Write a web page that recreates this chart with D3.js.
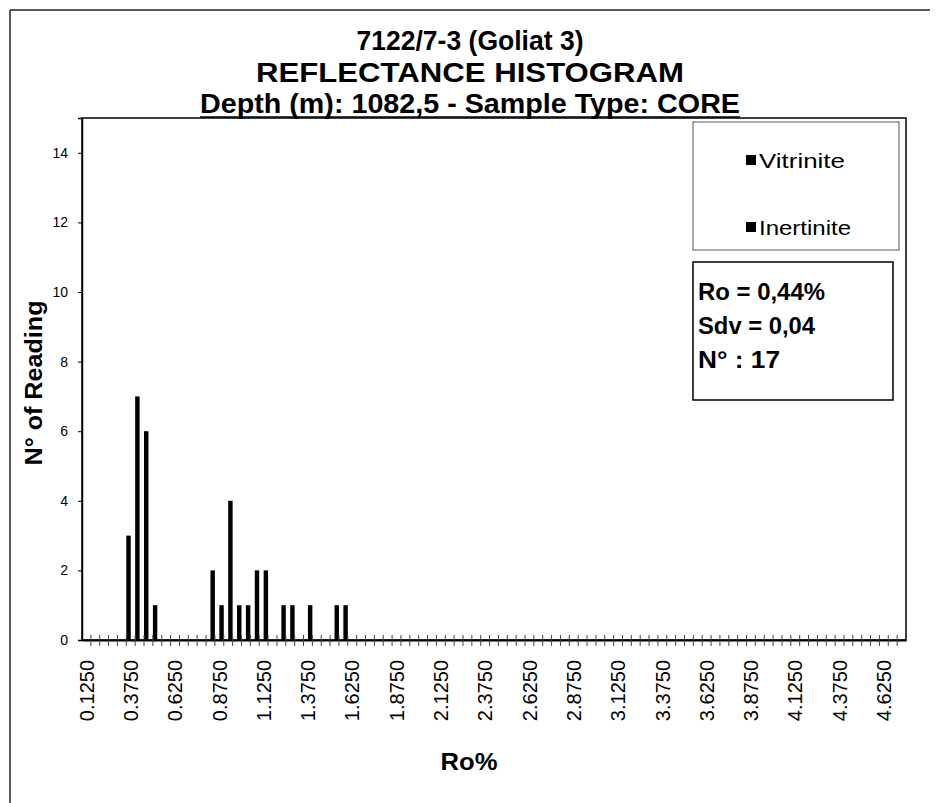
<!DOCTYPE html>
<html>
<head>
<meta charset="utf-8">
<script src="https://cdn.jsdelivr.net/npm/d3@7"></script>
<style>
  html, body { margin: 0; padding: 0; background: #fff; }
  svg { display: block; }
  text { font-family: "Liberation Sans", Arial, sans-serif; fill: #000; }
</style>
</head>
<body>
<svg id="chart" width="939" height="803"></svg>
<script>
// ---- data ----
const titleLines = ["7122/7-3 (Goliat 3)", "REFLECTANCE HISTOGRAM", "Depth (m): 1082,5 - Sample Type: CORE"];
const seriesNames = ["Vitrinite", "Inertinite"];
const categories = [
  "0.1250","0.1750","0.2250","0.2750","0.3250","0.3750","0.4250","0.4750","0.5250","0.5750",
  "0.6250","0.6750","0.7250","0.7750","0.8250","0.8750","0.9250","0.9750","1.0250","1.0750",
  "1.1250","1.1750","1.2250","1.2750","1.3250","1.3750","1.4250","1.4750","1.5250","1.5750",
  "1.6250","1.6750","1.7250","1.7750","1.8250","1.8750","1.9250","1.9750","2.0250","2.0750",
  "2.1250","2.1750","2.2250","2.2750","2.3250","2.3750","2.4250","2.4750","2.5250","2.5750",
  "2.6250","2.6750","2.7250","2.7750","2.8250","2.8750","2.9250","2.9750","3.0250","3.0750",
  "3.1250","3.1750","3.2250","3.2750","3.3250","3.3750","3.4250","3.4750","3.5250","3.5750",
  "3.6250","3.6750","3.7250","3.7750","3.8250","3.8750","3.9250","3.9750","4.0250","4.0750",
  "4.1250","4.1750","4.2250","4.2750","4.3250","4.3750","4.4250","4.4750","4.5250","4.5750",
  "4.6250","4.6750","4.7250"
];
const vitrinite = [
  0,0,0,0,0,3,7,6,1,0, 0,0,0,0,0,0,0,0,0,0, 0,0,0,0,0,0,0,0,0,0,
  0,0,0,0,0,0,0,0,0,0, 0,0,0,0,0,0,0,0,0,0, 0,0,0,0,0,0,0,0,0,0,
  0,0,0,0,0,0,0,0,0,0, 0,0,0,0,0,0,0,0,0,0, 0,0,0,0,0,0,0,0,0,0, 0,0,0
];
const inertinite = [
  0,0,0,0,0,0,0,0,0,0, 0,0,0,0,2,1,4,1,1,2, 2,0,1,1,0,1,0,0,1,1,
  0,0,0,0,0,0,0,0,0,0, 0,0,0,0,0,0,0,0,0,0, 0,0,0,0,0,0,0,0,0,0,
  0,0,0,0,0,0,0,0,0,0, 0,0,0,0,0,0,0,0,0,0, 0,0,0,0,0,0,0,0,0,0, 0,0,0
];
const xTickLabels = ["0.1250","0.3750","0.6250","0.8750","1.1250","1.3750","1.6250","1.8750","2.1250",
  "2.3750","2.6250","2.8750","3.1250","3.3750","3.6250","3.8750","4.1250","4.3750","4.6250"];
const yTicks = [0, 2, 4, 6, 8, 10, 12, 14];
const yMax = 15;
const statsLines = ["Ro = 0,44%", "Sdv = 0,04", "N° : 17"];
const xTitle = "Ro%";
const yTitle = "N° of Reading";

// ---- layout ----
const svg = d3.select("#chart");
const plot = { left: 82, right: 906, top: 118, bottom: 640 };

// outer frame (top and left edges visible in the scan)
svg.append("line").attr("x1", 10).attr("y1", 10).attr("x2", 930).attr("y2", 10)
  .attr("stroke", "#222").attr("stroke-width", 1.5);
svg.append("line").attr("x1", 10).attr("y1", 10).attr("x2", 10).attr("y2", 803)
  .attr("stroke", "#222").attr("stroke-width", 1.5);

// titles
const titleY = [50, 82, 113];
const titleW = [227, 428, 540];
titleLines.forEach((t, i) => {
  svg.append("text").attr("x", 470).attr("y", titleY[i])
    .attr("text-anchor", "middle").attr("font-size", 27).attr("font-weight", "bold")
    .attr("textLength", titleW[i]).attr("lengthAdjust", "spacingAndGlyphs")
    .text(t);
});
// underline of the third title line
svg.append("line").attr("x1", 470 - titleW[2] / 2).attr("x2", 470 + titleW[2] / 2)
  .attr("y1", 117).attr("y2", 117).attr("stroke", "#000").attr("stroke-width", 1.5);

// scales
const x = d3.scaleBand().domain(categories).range([plot.left, plot.right]).padding(0);
const xs = d3.scaleBand().domain(seriesNames).range([0, x.bandwidth()]).padding(0);
const y = d3.scaleLinear().domain([0, yMax]).range([plot.bottom, plot.top]);

// plot area border (top & right)
svg.append("rect").attr("x", plot.left).attr("y", plot.top)
  .attr("width", plot.right - plot.left).attr("height", plot.bottom - plot.top)
  .attr("fill", "none").attr("stroke", "#000").attr("stroke-width", 1.5);

// bars
const seriesData = [vitrinite, inertinite];
seriesData.forEach((vals, si) => {
  svg.append("g").selectAll("rect")
    .data(categories.map((c, i) => ({ c, v: vals[i] })).filter(d => d.v > 0))
    .join("rect")
    .attr("x", d => x(d.c) + xs(seriesNames[si]))
    .attr("width", xs.bandwidth())
    .attr("y", d => y(d.v))
    .attr("height", d => y(0) - y(d.v))
    .attr("fill", "#000");
});

// x axis
const xAxis = d3.axisBottom(x).tickValues(xTickLabels).tickSize(0).tickPadding(0);
const gx = svg.append("g").attr("transform", `translate(0,${plot.bottom})`).call(xAxis);
gx.select(".domain").attr("stroke", "#000").attr("stroke-width", 2);
gx.selectAll(".tick text")
  .attr("font-family", "Liberation Sans, Arial, sans-serif")
  .attr("font-size", 20)
  .attr("fill", "#000")
  .attr("text-anchor", "end")
  .attr("transform", "translate(0,20) rotate(-90)")
  .attr("x", 0).attr("y", 0).attr("dy", "0.36em");
// category boundary tick marks
svg.append("g").selectAll("line")
  .data(categories.slice(1))
  .join("line")
  .attr("x1", d => x(d)).attr("x2", d => x(d))
  .attr("y1", plot.bottom - 5).attr("y2", plot.bottom + 6)
  .attr("stroke", "#444").attr("stroke-width", 1);

// y axis
const yAxis = d3.axisLeft(y).tickValues(yTicks).tickSize(4).tickPadding(10).tickFormat(d3.format("d"));
const gy = svg.append("g").attr("transform", `translate(${plot.left},0)`).call(yAxis);
gy.select(".domain").attr("stroke", "#000").attr("stroke-width", 1.5);
gy.selectAll(".tick line").attr("stroke", "#000");
gy.selectAll(".tick text").attr("font-family", "Liberation Sans, Arial, sans-serif")
  .attr("font-size", 14).attr("fill", "#000");

// axis titles
svg.append("text").attr("x", 469).attr("y", 770).attr("text-anchor", "middle")
  .attr("font-size", 24).attr("font-weight", "bold")
  .attr("textLength", 57).attr("lengthAdjust", "spacingAndGlyphs").text(xTitle);
svg.append("text").attr("transform", "translate(42,383) rotate(-90)")
  .attr("text-anchor", "middle").attr("font-size", 24).attr("font-weight", "bold")
  .attr("textLength", 165).attr("lengthAdjust", "spacingAndGlyphs").text(yTitle);

// legend
svg.append("rect").attr("x", 693).attr("y", 122).attr("width", 206).attr("height", 128)
  .attr("fill", "#fff").attr("stroke", "#555").attr("stroke-width", 1);
const legY = [160, 227];
seriesNames.forEach((n, i) => {
  svg.append("rect").attr("x", 746).attr("y", legY[i] - 5).attr("width", 10).attr("height", 10).attr("fill", "#000");
  svg.append("text").attr("x", 759).attr("y", legY[i] + 8).attr("font-size", 21)
    .attr("textLength", i === 0 ? 86 : 92).attr("lengthAdjust", "spacingAndGlyphs").text(n);
});

// stats box
svg.append("rect").attr("x", 693).attr("y", 262).attr("width", 200).attr("height", 138)
  .attr("fill", "#fff").attr("stroke", "#000").attr("stroke-width", 1.5);
const statY = [300, 334, 368];
const statW = [127, 117, 82];
statsLines.forEach((s, i) => {
  svg.append("text").attr("x", 698).attr("y", statY[i]).attr("font-size", 23).attr("font-weight", "bold")
    .attr("textLength", statW[i]).attr("lengthAdjust", "spacingAndGlyphs").text(s);
});
</script>
</body>
</html>
